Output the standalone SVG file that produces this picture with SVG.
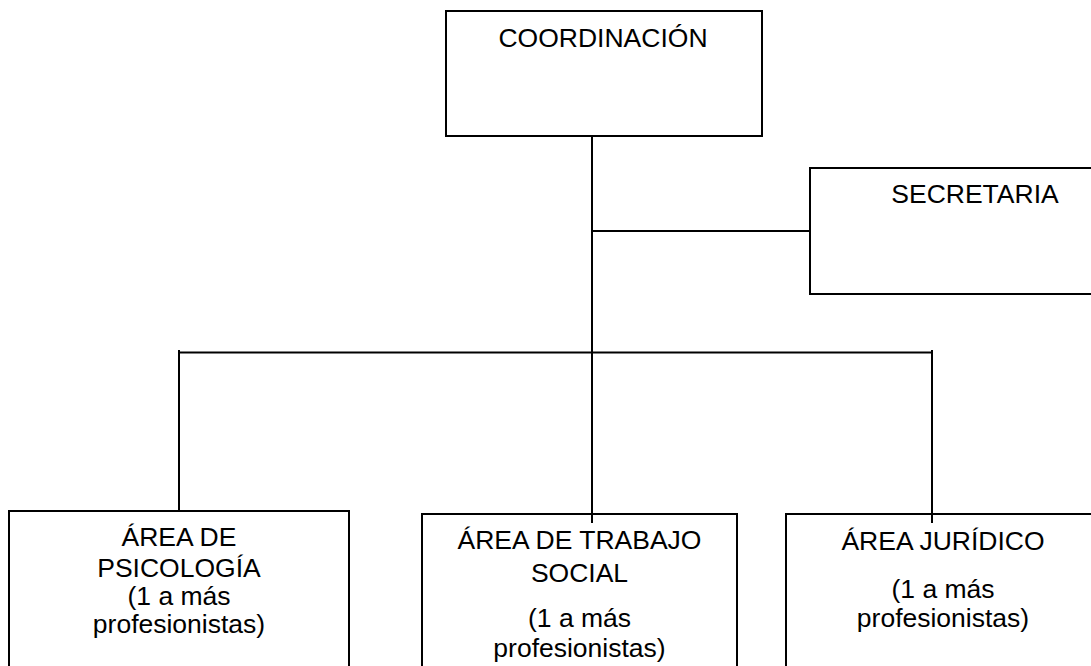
<svg xmlns="http://www.w3.org/2000/svg" width="1091" height="666" viewBox="0 0 1091 666">
<style>
.box{fill:#fff;stroke:#000;stroke-width:2}
.ln{stroke:#000;stroke-width:2;fill:none}
text{font-family:"Liberation Sans",Arial,sans-serif;font-size:26.5px;fill:#000;text-anchor:middle}
</style>
<rect width="1091" height="666" fill="#fff"/>
<g id="connectors">
<line class="ln" x1="592" y1="136" x2="592" y2="523"/>
<line class="ln" x1="592" y1="231" x2="810" y2="231"/>
<line class="ln" x1="179" y1="352.5" x2="932" y2="352.5"/>
<line class="ln" x1="179" y1="350" x2="179" y2="511"/>
<line class="ln" x1="932" y1="350" x2="932" y2="523"/>
</g>
<g id="coordinacion">
<rect class="box" x="446" y="11" width="316" height="125"/>
<text x="603" y="46.5">COORDINACIÓN</text>
</g>
<g id="secretaria">
<rect class="box" x="810" y="168" width="330" height="126"/>
<text x="975" y="203">SECRETARIA</text>
</g>
<g id="psicologia">
<rect class="box" x="9" y="511" width="340" height="200"/>
<text x="179" y="546">ÁREA DE</text>
<text x="179" y="576.5">PSICOLOGÍA</text>
<text x="179" y="605">(1 a más</text>
<text x="179" y="633">profesionistas)</text>
</g>
<g id="trabajo-social">
<rect class="box" x="422" y="514" width="315" height="200"/>
<text x="579.5" y="549">ÁREA DE TRABAJO</text>
<text x="579.5" y="581.5">SOCIAL</text>
<text x="579.5" y="626.5">(1 a más</text>
<text x="579.5" y="656.5">profesionistas)</text>
</g>
<g id="juridico">
<rect class="box" x="786" y="514" width="314" height="200"/>
<text x="943" y="550">ÁREA JURÍDICO</text>
<text x="943" y="597.5">(1 a más</text>
<text x="943" y="626.5">profesionistas)</text>
</g>
<line class="ln" x1="592" y1="514" x2="592" y2="523"/>
<line class="ln" x1="932" y1="514" x2="932" y2="523"/>
</svg>
